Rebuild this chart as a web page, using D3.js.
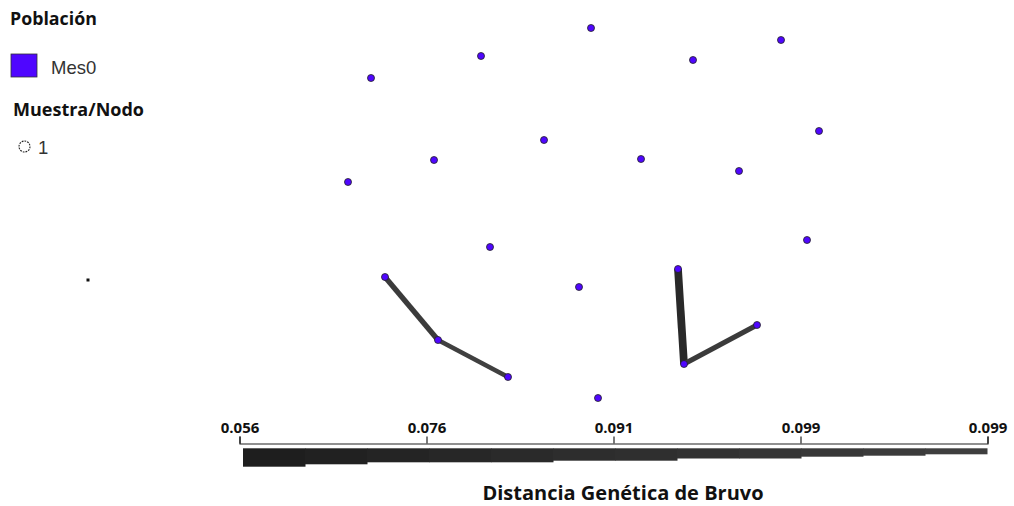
<!DOCTYPE html>
<html>
<head>
<meta charset="utf-8">
<script src="https://cdn.jsdelivr.net/npm/d3@7"></script>
<style>
  body { margin: 0; background: #fff; }
  svg { display: block; }
</style>
</head>
<body>
<svg width="1014" height="506"></svg>
<script>
// node layout (layout units), one population "Mes0", 1 sample per node
var nodeX = [5.91, 7.81, 4.81, 6.93, 3.71, 8.19, 5.44, 4.34, 6.41, 7.39, 3.48,
             8.07, 4.90, 3.85, 5.79, 6.78, 7.57, 4.38, 6.84, 5.08, 5.98];
var nodeY = [0.28, 0.40, 0.56, 0.60, 0.78, 1.31, 1.40, 1.60, 1.59, 1.71, 1.82,
             2.40, 2.47, 2.77, 2.87, 2.69, 3.25, 3.40, 3.64, 3.77, 3.98];
// minimum spanning links: [from, to, bruvo distance]
var edgeFrom = [13, 17, 15, 18];
var edgeTo   = [17, 19, 18, 16];
var edgeDist = [0.091, 0.095, 0.076, 0.091];

var populations = ['Mes0'];
var popColors = ['#4f06ff'];
var nodeSizes = ['1'];

var tickLabels = ['0.056', '0.076', '0.091', '0.099', '0.099'];
// thickness of the distance legend bar, one value per step
var barSteps = [18.4, 16, 14, 14, 14, 12.4, 12.4, 10.2, 10.2, 8.4, 7.4, 6];

var svg = d3.select('svg');

var x = d3.scaleLinear().domain([0, 10.14]).range([0, 1014]);
var y = d3.scaleLinear().domain([0, 5.06]).range([0, 506]);

// edge width / colour come from distance
var w = d3.scaleLinear().domain([0.056, 0.099]).range([11, 4]);
var shade = d3.scaleLinear().domain([0.056, 0.099]).range(['#111', '#454545']);

svg.selectAll('line.edge')
  .data(edgeFrom)
  .enter()
  .append('line')
  .attr('class', 'edge')
  .attr('x1', function(d) { return x(nodeX[d]); })
  .attr('y1', function(d) { return y(nodeY[d]); })
  .attr('x2', function(d, i) { return x(nodeX[edgeTo[i]]); })
  .attr('y2', function(d, i) { return y(nodeY[edgeTo[i]]); })
  .attr('stroke', function(d, i) { return shade(edgeDist[i]); })
  .attr('stroke-width', function(d, i) { return w(edgeDist[i]); })
  .attr('stroke-linecap', 'butt');

svg.selectAll('circle.node')
  .data(nodeX)
  .enter()
  .append('circle')
  .attr('class', 'node')
  .attr('cx', function(d) { return x(d); })
  .attr('cy', function(d, i) { return y(nodeY[i]); })
  .attr('r', 3.5)
  .attr('fill', popColors[0])
  .attr('stroke', '#222')
  .attr('stroke-width', 0.8);

// stray point left of the network
svg.append('rect')
  .attr('x', 86.5).attr('y', 278.5)
  .attr('width', 3).attr('height', 3)
  .attr('fill', '#111');

// legend
var legend = svg.append('g');
legend.append('text')
  .attr('x', 10).attr('y', 24.5)
  .attr('font-family', 'Open Sans').attr('font-weight', 'bold')
  .attr('font-size', 17.8).attr('fill', '#111')
  .text('Población');

var pop = legend.selectAll('g.pop')
  .data(populations)
  .enter()
  .append('g')
  .attr('class', 'pop');
pop.append('rect')
  .attr('x', 11).attr('y', 54)
  .attr('width', 26).attr('height', 23)
  .attr('fill', function(d, i) { return popColors[i]; })
  .attr('stroke', '#333').attr('stroke-width', 0.8);
pop.append('text')
  .attr('x', 51).attr('y', 74)
  .attr('font-family', 'Liberation Sans')
  .attr('font-size', 18.5).attr('fill', '#333')
  .text(function(d) { return d; });

legend.append('text')
  .attr('x', 13).attr('y', 115.5)
  .attr('font-family', 'Open Sans').attr('font-weight', 'bold')
  .attr('font-size', 18).attr('fill', '#111')
  .text('Muestra/Nodo');

var sz = legend.selectAll('g.size')
  .data(nodeSizes)
  .enter()
  .append('g')
  .attr('class', 'size');
sz.append('circle')
  .attr('cx', 24.5).attr('cy', 146.5).attr('r', 5.5)
  .attr('fill', '#fff').attr('stroke', '#222')
  .attr('stroke-width', 1.1).attr('stroke-dasharray', '1.8,1');
sz.append('text')
  .attr('x', 38).attr('y', 154)
  .attr('font-family', 'Liberation Sans')
  .attr('font-size', 18.5).attr('fill', '#333')
  .text(function(d) { return d; });

// distance scale bar
var tx = d3.scalePoint().domain(d3.range(tickLabels.length)).range([239.5, 987.5]);
var axis = d3.axisTop(tx)
  .tickSize(7)
  .tickPadding(4)
  .tickFormat(function(i) { return tickLabels[i]; });
var ag = svg.append('g')
  .attr('transform', 'translate(0,443.5)')
  .call(axis);
ag.select('.domain').attr('stroke', '#222').attr('stroke-width', 1.2);
ag.selectAll('.tick line').attr('stroke', '#222').attr('stroke-width', 1.2);
ag.selectAll('.tick text')
  .attr('font-family', 'Open Sans').attr('font-weight', 'bold')
  .attr('font-size', 15).attr('fill', '#111');

var bx = d3.scaleBand().domain(d3.range(barSteps.length)).range([243, 987]).paddingInner(0);
var barShade = d3.scaleLinear().domain([0, barSteps.length - 1]).range(['#1e1e1e', '#3e3e3e']);
svg.selectAll('rect.step')
  .data(barSteps)
  .enter()
  .append('rect')
  .attr('class', 'step')
  .attr('x', function(d, i) { return bx(i); })
  .attr('y', 448.3)
  .attr('width', bx.bandwidth() + 0.5)
  .attr('height', function(d) { return d; })
  .attr('fill', function(d, i) { return barShade(i); });

svg.append('text')
  .attr('x', 623).attr('y', 500)
  .attr('text-anchor', 'middle')
  .attr('font-family', 'Open Sans').attr('font-weight', 'bold')
  .attr('font-size', 20).attr('fill', '#111')
  .text('Distancia Genética de Bruvo');
</script>
</body>
</html>
